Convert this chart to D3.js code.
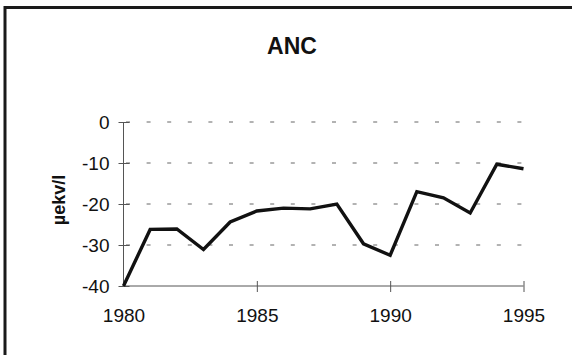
<!DOCTYPE html>
<html>
<head>
<meta charset="utf-8">
<script src="https://cdn.jsdelivr.net/npm/d3@7/dist/d3.min.js"></script>
<style>
  html, body { margin: 0; padding: 0; background: #fff; }
  svg { display: block; }
  text { font-family: "Liberation Sans", Arial, sans-serif; fill: #111; }
</style>
</head>
<body>
<svg id="chart" width="572" height="355"></svg>
<script>
const title = "ANC";
const yLabel = "µekv/l";
const years = [1980,1981,1982,1983,1984,1985,1986,1987,1988,1989,1990,1991,1992,1993,1994,1995];
const ancValues = [-40,-26.2,-26.1,-31.1,-24.4,-21.7,-21.0,-21.2,-20.0,-29.7,-32.5,-17.0,-18.5,-22.2,-10.3,-11.4];
const xTicks = [1980,1985,1990,1995];
const yTicks = [0,-10,-20,-30,-40];

const svg = d3.select("#chart");
const x = d3.scaleLinear().domain([1980,1995]).range([123.5,523.5]);
const y = d3.scaleLinear().domain([-40,0]).range([286,122]);

// frame (top & left edges visible)
svg.append("line").attr("x1",5).attr("x2",572).attr("y1",7.5).attr("y2",7.5)
  .attr("stroke","#1a1a1a").attr("stroke-width",3);
svg.append("line").attr("x1",5).attr("x2",5).attr("y1",6).attr("y2",355)
  .attr("stroke","#1a1a1a").attr("stroke-width",3);

// gridlines
svg.append("g").selectAll("line").data(yTicks.filter(d => d !== -40)).join("line")
  .attr("x1", x(1980)+2.5).attr("x2", x(1995))
  .attr("y1", d => y(d)).attr("y2", d => y(d))
  .attr("stroke","#666").attr("stroke-width",1)
  .attr("stroke-dasharray","4,16.6");

// y axis
const yAxis = svg.append("g").attr("transform",`translate(${x(1980)},0)`)
  .call(d3.axisLeft(y).tickValues(yTicks).tickFormat(d => String(d)).tickSize(5).tickPadding(14));
yAxis.select(".domain").attr("stroke","#555").attr("d",`M0,${y(0)}V${y(-40)}`);
yAxis.selectAll(".tick line").attr("stroke","#555").attr("x1",-5).attr("x2",6);
yAxis.selectAll(".tick text").attr("font-size",19).attr("fill","#111")
  .attr("font-family","Liberation Sans, Arial, sans-serif")
  .attr("x",-14).attr("dy","0.36em");

// x axis
const xAxis = svg.append("g").attr("transform",`translate(0,${y(-40)})`)
  .call(d3.axisBottom(x).tickValues(xTicks).tickFormat(d => String(d)).tickSize(6));
xAxis.select(".domain").attr("stroke","#555").attr("d",`M${x(1980)},0H${x(1995)}`);
xAxis.selectAll(".tick line").attr("stroke","#555").attr("y1",-5).attr("y2",6)
  .filter(d => d === 1980).attr("y1",0).attr("y2",0);
xAxis.selectAll(".tick text").attr("font-size",19).attr("fill","#111")
  .attr("font-family","Liberation Sans, Arial, sans-serif")
  .attr("y",36).attr("dy",0);

// data line
svg.append("path").datum(years.map((yr,i) => [yr, ancValues[i]]))
  .attr("fill","none").attr("stroke","#111").attr("stroke-width",3.4)
  .attr("stroke-linejoin","miter").attr("stroke-miterlimit",2)
  .attr("d", d3.line().x(d => x(d[0])).y(d => y(d[1])));

// title
svg.append("text").attr("x",292).attr("y",54).attr("text-anchor","middle")
  .attr("font-size",23).attr("font-weight","bold").text(title);

// y label
svg.append("text").attr("transform","translate(65,200) rotate(-90)")
  .attr("text-anchor","middle").attr("font-size",18).attr("font-weight","bold")
  .text(yLabel);
</script>
</body>
</html>
